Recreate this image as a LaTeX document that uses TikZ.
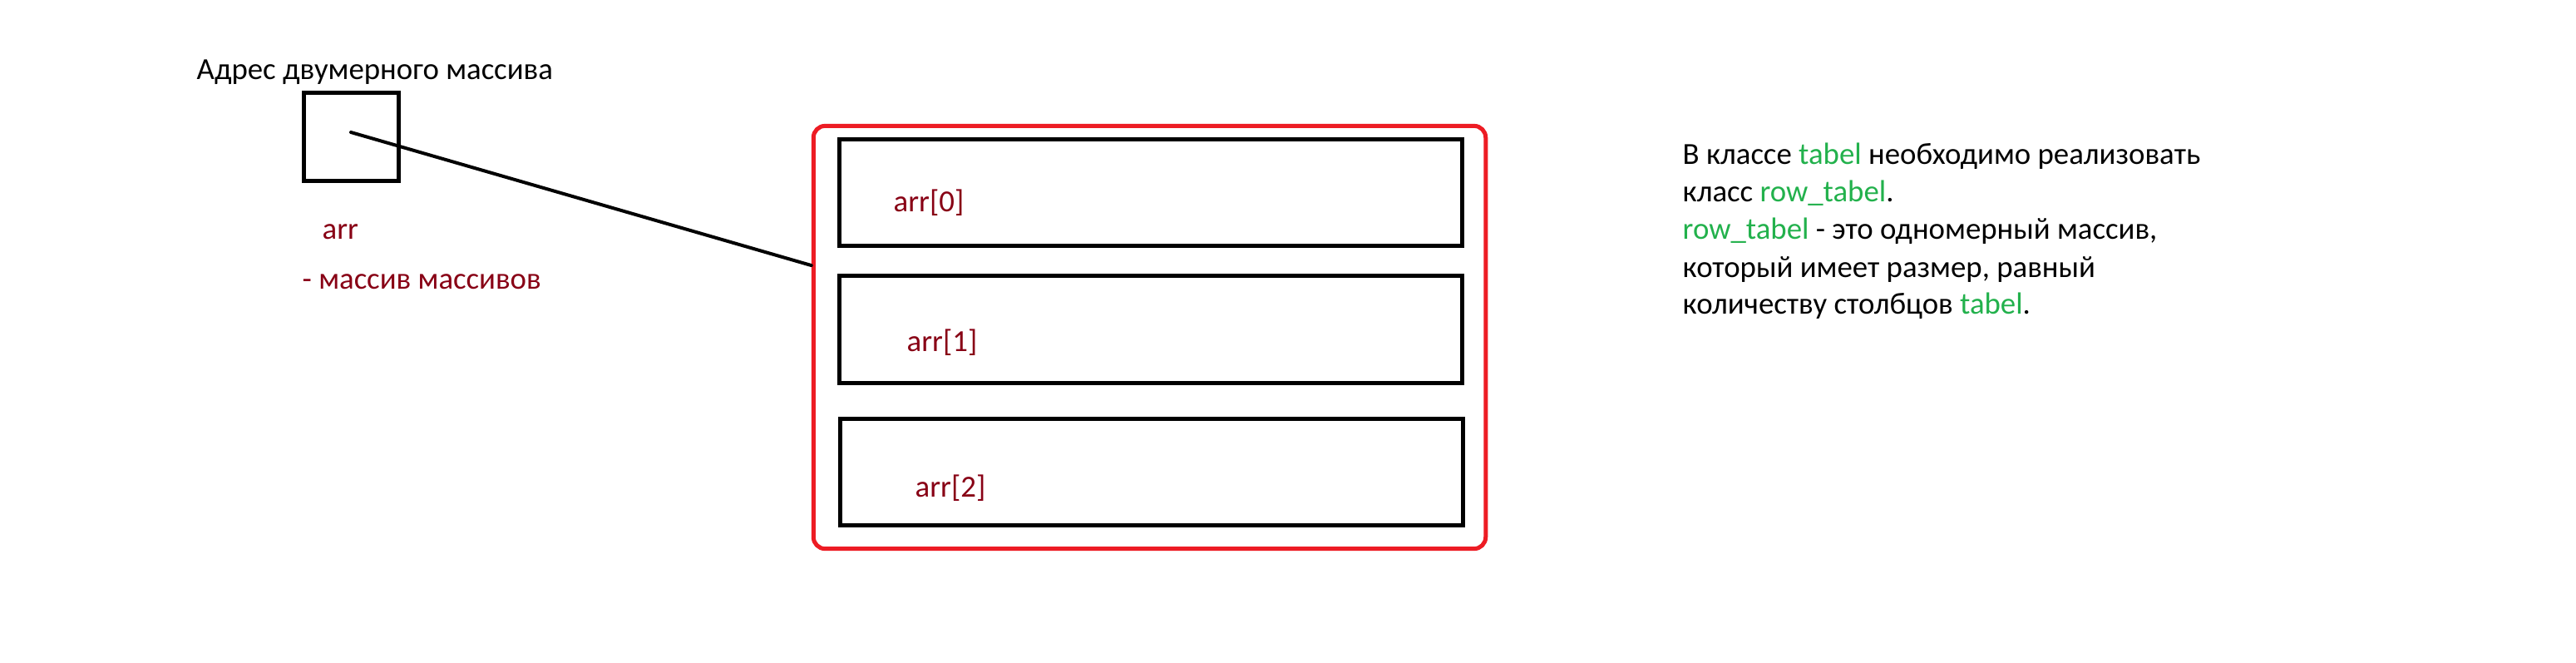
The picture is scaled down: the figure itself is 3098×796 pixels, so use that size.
\documentclass[tikz,border=0pt]{standalone}
\usepackage{fontspec}
\setmainfont{Carlito}
\definecolor{pdarkred}{HTML}{880015}
\definecolor{pgreen}{HTML}{22B14C}
\definecolor{pred}{HTML}{ED1C24}
\begin{document}
\begin{tikzpicture}[x=0.01cm,y=-0.01cm,
  txt/.style={anchor=base west, inner sep=0pt, font=\fontsize{0.368cm}{0.45cm}\selectfont},
  note/.style={txt, text=pdarkred},
  cell/.style={draw=black, line width=0.05cm, minimum width=7.49cm, minimum height=1.28cm, inner sep=0pt},
  holder/.style={draw=pred, line width=0.05cm, rounded corners=0.14cm, minimum width=8.08cm, minimum height=5.08cm, inner sep=0pt},
  addrbox/.style={draw=black, line width=0.05cm, minimum width=1.14cm, minimum height=1.06cm, inner sep=0pt},
  pointer/.style={draw=black, line width=0.04cm, line cap=round}]
\useasboundingbox[fill=white] (0,0) rectangle (3098,796);

% left part
\node[txt] (title) at (236,95) {Адрес двумерного массива};
\node[addrbox] (addr) at (422.5,164.5) {};
\node[note] (arrlbl) at (387,287) {arr};
\node[note] (desc) at (363,347) {- массив массивов};

% red container and rows
\node[holder] (outer) at (1382.5,405.5) {};
\node[cell] (row0) at (1384,231.5) {};
\node[cell, minimum height=1.29cm] (row1) at (1384,396) {};
\node[cell] (row2) at (1385,567.5) {};
\node[note] (l0) at (1074,254) {arr[0]};
\node[note] (l1) at (1090,422) {arr[1]};
\node[note] (l2) at (1100,597) {arr[2]};

% pointer
\coordinate (ptr) at (422,159);
\draw[pointer] (ptr) -- (outer.168.46);

% right text
\node[txt] (t1) at (2023,197) {В классе \textcolor{pgreen}{tabel} необходимо реализовать};
\node[txt] (t2) at (2023,242) {класс \textcolor{pgreen}{row\_tabel}.};
\node[txt] (t3) at (2023,287) {\textcolor{pgreen}{row\_tabel} - это одномерный массив,};
\node[txt] (t4) at (2023,333) {который имеет размер, равный};
\node[txt] (t5) at (2023,377) {количеству столбцов \textcolor{pgreen}{tabel}.};
\end{tikzpicture}
\end{document}
